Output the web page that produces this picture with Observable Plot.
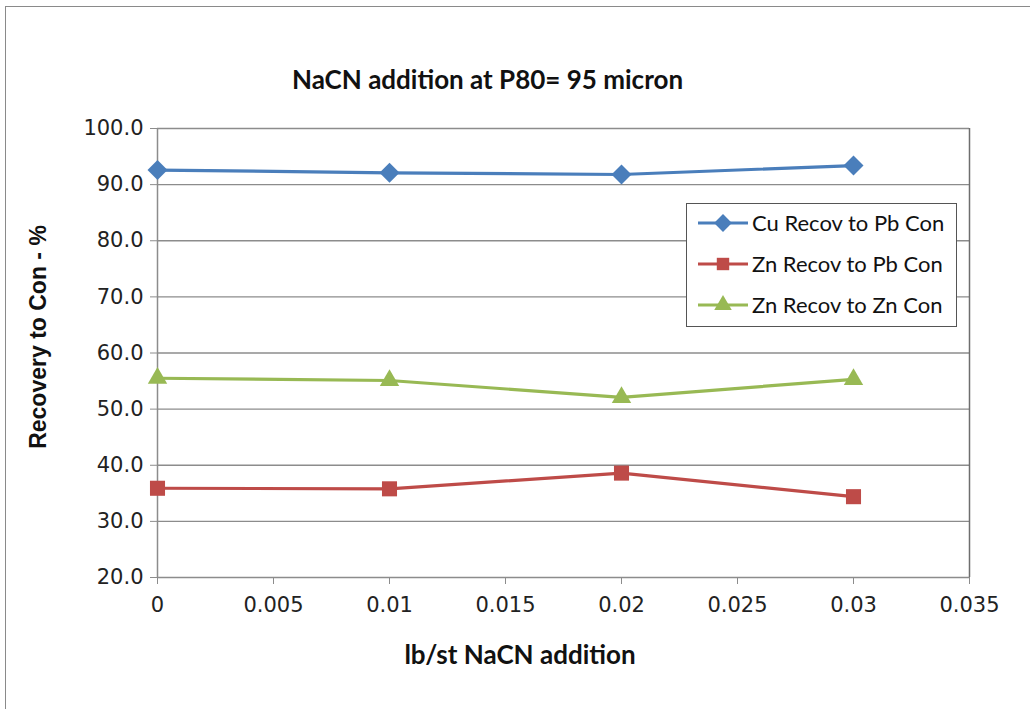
<!DOCTYPE html>
<html>
<head>
<meta charset="utf-8">
<script src="https://cdn.jsdelivr.net/npm/d3@7"></script>
<script src="https://cdn.jsdelivr.net/npm/@observablehq/plot@0.6"></script>
<style>
  html, body { margin: 0; padding: 0; background: #fff; }
  #wrap { position: relative; width: 1030px; height: 709px; overflow: hidden; font-family: Lato, "Open Sans", sans-serif; }
  #frame { position: absolute; left: 5px; top: 6px; width: 1100px; height: 800px; border: 1.5px solid #8a8a8a; box-sizing: border-box; }
  #chart { position: absolute; left: 0; top: 0; }
  .title { position: absolute; left: 0; width: 975px; top: 63px; line-height: 32px; text-align: center; font-weight: bold; font-size: 26px; color: #111; }
  .xtitle { position: absolute; left: 0; width: 1040px; top: 638px; line-height: 32px; text-align: center; font-weight: bold; font-size: 26px; color: #111; }
  .ytitle { position: absolute; left: 38px; top: 337px; transform: translate(-50%, -50%) rotate(-90deg); white-space: nowrap; font-family: "Liberation Sans", Arial, sans-serif; font-weight: bold; font-size: 23px; color: #111; }
  #legend { position: absolute; left: 686px; top: 203px; width: 271px; height: 124px; box-sizing: border-box; border: 1.5px solid #555; background: #fff; }
  .lrow { position: absolute; left: 10px; display: flex; align-items: center; font-size: 22px; color: #111; white-space: nowrap; }
  .lrow svg { margin-right: 3px; }
</style>
</head>
<body>
<div id="wrap">
  <div id="frame"></div>
  <div id="chart"></div>
  <div class="title">NaCN addition at P80= 95 micron</div>
  <div class="xtitle">lb/st NaCN addition</div>
  <div class="ytitle">Recovery to Con - %</div>
  <div id="legend"></div>
</div>
<script>
const xValues = [0, 0.01, 0.02, 0.03];
const cuRecovPbCon = [92.6, 92.1, 91.8, 93.4];
const znRecovPbCon = [35.9, 35.8, 38.6, 34.4];
const znRecovZnCon = [55.5, 55.1, 52.1, 55.3];
const seriesNames = ["Cu Recov to Pb Con", "Zn Recov to Pb Con", "Zn Recov to Zn Con"];
const seriesColors = ["#4A7EBB", "#BE4B48", "#98B954"];
const seriesSymbols = ["diamond2", "square", "triangle"];
const seriesR = [9, 8.5, 7.2];
const xTicks = [0, 0.005, 0.01, 0.015, 0.02, 0.025, 0.03, 0.035];
const yTicks = [20, 30, 40, 50, 60, 70, 80, 90, 100];

const seriesValues = [cuRecovPbCon, znRecovPbCon, znRecovZnCon];
const rows = [];
seriesValues.forEach((vals, i) => vals.forEach((v, j) => rows.push({series: seriesNames[i], x: xValues[j], y: v})));

const tickFont = "'DejaVu Sans', Verdana, sans-serif";
const marks = [
  Plot.gridY(yTicks, {stroke: "#8c8c8c", strokeOpacity: 1, strokeWidth: 1.3}),
  Plot.ruleX([0.035], {stroke: "#6e6e6e", strokeWidth: 1.5}),
  Plot.ruleX([0], {stroke: "#8c8c8c", strokeWidth: 1.5}),
  Plot.axisY({ticks: yTicks, tickFormat: d => d.toFixed(1), tickSize: 7, tickPadding: 7, fontSize: 21, fontFamily: tickFont, stroke: "#8c8c8c", label: null, fill: "#222"}),
  Plot.axisX({ticks: xTicks, tickFormat: d => String(+d.toFixed(3)), tickSize: 7, tickPadding: 13, fontSize: 21, fontFamily: tickFont, stroke: "#8c8c8c", label: null, fill: "#222"}),
];
seriesNames.forEach((name, i) => {
  const d = rows.filter(r => r.series === name);
  marks.push(Plot.line(d, {x: "x", y: "y", stroke: seriesColors[i], strokeWidth: 3.2}));
  marks.push(Plot.dot(d, {x: "x", y: "y", fill: seriesColors[i], stroke: "none", symbol: seriesSymbols[i], r: seriesR[i]}));
});

const chart = Plot.plot({
  width: 1030,
  height: 709,
  marginLeft: 157,
  marginRight: 61,
  marginTop: 128,
  marginBottom: 132,
  style: {background: "transparent", fontFamily: "Lato, 'Open Sans', sans-serif"},
  x: {domain: [0, 0.035]},
  y: {domain: [20, 100]},
  marks
});
document.getElementById("chart").appendChild(chart);

// legend
const legend = document.getElementById("legend");
const symPaths = {
  "diamond2": d3.symbol(d3.symbolDiamond2, Math.PI * 8 * 8)(),
  "square": d3.symbol(d3.symbolSquare, Math.PI * 7 * 7)(),
  "triangle": d3.symbol(d3.symbolTriangle, Math.PI * 6.5 * 6.5)()
};
seriesNames.forEach((name, i) => {
  const row = document.createElement("div");
  row.className = "lrow";
  row.style.top = (5 + i * 41) + "px";
  row.innerHTML = `<svg width="52" height="26"><line x1="1" x2="51" y1="13" y2="13" stroke="${seriesColors[i]}" stroke-width="3.2"/><path transform="translate(26,13)" d="${symPaths[seriesSymbols[i]]}" fill="${seriesColors[i]}"/></svg><span>${name}</span>`;
  legend.appendChild(row);
});
</script>
</body>
</html>
